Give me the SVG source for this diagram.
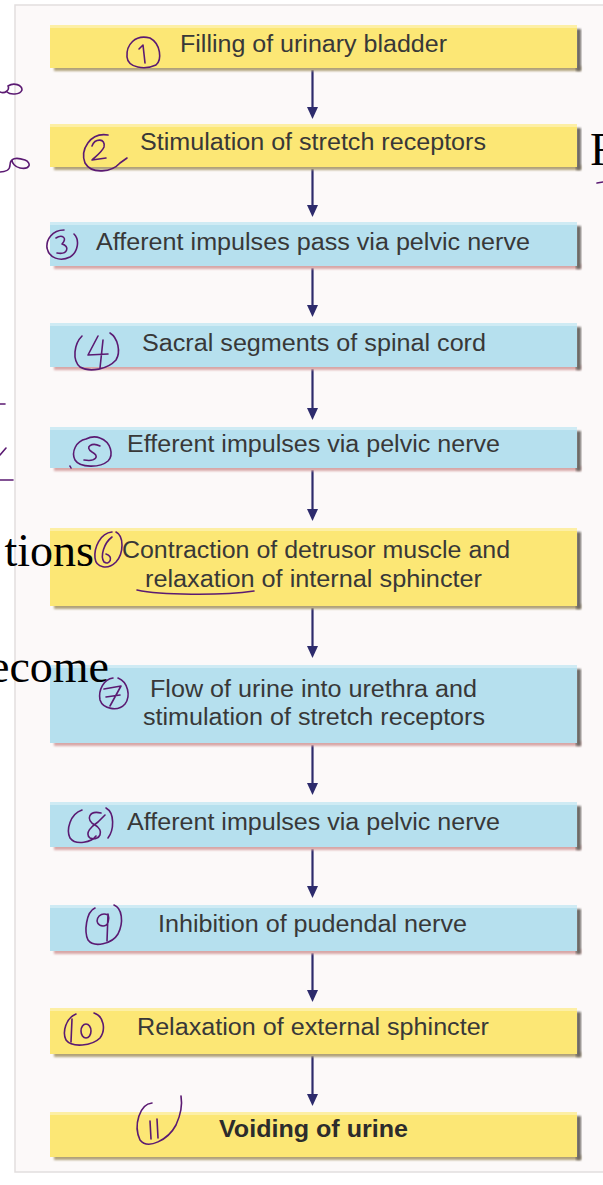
<svg xmlns="http://www.w3.org/2000/svg" width="603" height="1185" viewBox="0 0 603 1185">
  <style>
    .box-y { fill: #fce775; }
    .box-b { fill: #b6e0ee; }
    .hl { fill: #ffffff; opacity: 0.35; }
    .sh-r { fill: #6e6a66; }
    .sh-y { fill: #b0a27a; }
    .sh-b { fill: #d8a7a7; }
    .lbl { font-family: "Liberation Sans", Arial, sans-serif; font-size: 23px; fill: #383838; text-anchor: middle; }
    .bold { font-weight: bold; fill: #2c2c2c; }
    .ink { fill: none; stroke: #5b1a72; stroke-width: 1.6; stroke-linecap: round; stroke-linejoin: round; }
    .serif { font-family: "Liberation Serif", "Times New Roman", serif; font-size: 46px; fill: #000000; }
    .conn { stroke: #2d2b6c; stroke-width: 2.2; fill: none; }
  </style>
  <defs>
    <filter id="soft" x="-5%" y="-50%" width="110%" height="200%">
      <feGaussianBlur stdDeviation="1.2"/>
    </filter>
    <marker id="head" markerUnits="userSpaceOnUse" markerWidth="12" markerHeight="13" refX="5.5" refY="12" orient="auto-start-reverse" viewBox="0 0 11 13">
      <path d="M0,1 L11,1 L5.5,12 Z" fill="#2d2b6c" transform="rotate(-90 5.5 6.5) rotate(90 5.5 6.5)"/>
    </marker>
  </defs>

  <!-- page background and panel -->
  <rect x="0" y="0" width="603" height="1185" fill="#ffffff"/>
  <rect x="15" y="5" width="600" height="1167" fill="#fcf9f9" stroke="#e2dede" stroke-width="1.5"/>

  <!-- connectors -->
  <g id="connectors">
    <line class="conn" x1="312.5" y1="70" x2="312.5" y2="112"/>
    <path d="M307,107 L318,107 L312.5,119 Z" fill="#2d2b6c"/>
    <line class="conn" x1="312.5" y1="169" x2="312.5" y2="210"/>
    <path d="M307,205 L318,205 L312.5,217 Z" fill="#2d2b6c"/>
    <line class="conn" x1="312.5" y1="268" x2="312.5" y2="311"/>
    <path d="M307,305 L318,305 L312.5,317 Z" fill="#2d2b6c"/>
    <line class="conn" x1="312.5" y1="369" x2="312.5" y2="414"/>
    <path d="M307,408 L318,408 L312.5,420 Z" fill="#2d2b6c"/>
    <line class="conn" x1="312.5" y1="470" x2="312.5" y2="514"/>
    <path d="M307,509 L318,509 L312.5,521 Z" fill="#2d2b6c"/>
    <line class="conn" x1="312.5" y1="608" x2="312.5" y2="651"/>
    <path d="M307,646 L318,646 L312.5,658 Z" fill="#2d2b6c"/>
    <line class="conn" x1="312.5" y1="745" x2="312.5" y2="789"/>
    <path d="M307,783 L318,783 L312.5,795 Z" fill="#2d2b6c"/>
    <line class="conn" x1="312.5" y1="849" x2="312.5" y2="891"/>
    <path d="M307,886 L318,886 L312.5,898 Z" fill="#2d2b6c"/>
    <line class="conn" x1="312.5" y1="953" x2="312.5" y2="995"/>
    <path d="M307,990 L318,990 L312.5,1002 Z" fill="#2d2b6c"/>
    <line class="conn" x1="312.5" y1="1056" x2="312.5" y2="1099"/>
    <path d="M307,1094 L318,1094 L312.5,1106 Z" fill="#2d2b6c"/>
  </g>

  <!-- flow steps -->
  <g id="step1">
    <rect class="sh-y" x="54" y="66" width="527" height="5" filter="url(#soft)"/>
    <rect class="sh-r" x="576" y="29" width="5" height="42" filter="url(#soft)"/>
    <rect class="box-y" x="50" y="25" width="527" height="43"/>
    <rect class="hl" x="50" y="25" width="527" height="3"/>
    <text class="lbl" x="313.5" y="52" textLength="267" lengthAdjust="spacingAndGlyphs">Filling of urinary bladder</text>
  </g>
  <g id="step2">
    <rect class="sh-y" x="54" y="165" width="527" height="5" filter="url(#soft)"/>
    <rect class="sh-r" x="576" y="128" width="5" height="42" filter="url(#soft)"/>
    <rect class="box-y" x="50" y="124" width="527" height="43"/>
    <rect class="hl" x="50" y="124" width="527" height="3"/>
    <text class="lbl" x="313" y="150" textLength="346" lengthAdjust="spacingAndGlyphs">Stimulation of stretch receptors</text>
  </g>
  <g id="step3">
    <rect class="sh-b" x="54" y="264" width="527" height="5" filter="url(#soft)"/>
    <rect class="sh-r" x="576" y="226" width="5" height="43" filter="url(#soft)"/>
    <rect class="box-b" x="50" y="222" width="527" height="44"/>
    <rect class="hl" x="50" y="222" width="527" height="3"/>
    <text class="lbl" x="313" y="250" textLength="434" lengthAdjust="spacingAndGlyphs">Afferent impulses pass via pelvic nerve</text>
  </g>
  <g id="step4">
    <rect class="sh-b" x="54" y="365" width="527" height="5" filter="url(#soft)"/>
    <rect class="sh-r" x="576" y="327" width="5" height="43" filter="url(#soft)"/>
    <rect class="box-b" x="50" y="323" width="527" height="44"/>
    <rect class="hl" x="50" y="323" width="527" height="3"/>
    <text class="lbl" x="314" y="351" textLength="344" lengthAdjust="spacingAndGlyphs">Sacral segments of spinal cord</text>
  </g>
  <g id="step5">
    <rect class="sh-b" x="54" y="466" width="527" height="5" filter="url(#soft)"/>
    <rect class="sh-r" x="576" y="431" width="5" height="40" filter="url(#soft)"/>
    <rect class="box-b" x="50" y="427" width="527" height="41"/>
    <rect class="hl" x="50" y="427" width="527" height="3"/>
    <text class="lbl" x="313.5" y="452" textLength="373" lengthAdjust="spacingAndGlyphs">Efferent impulses via pelvic nerve</text>
  </g>
  <g id="step6">
    <rect class="sh-y" x="54" y="604" width="527" height="5" filter="url(#soft)"/>
    <rect class="sh-r" x="576" y="532" width="5" height="77" filter="url(#soft)"/>
    <rect class="box-y" x="50" y="528" width="527" height="78"/>
    <rect class="hl" x="50" y="528" width="527" height="3"/>
    <text class="lbl" x="316" y="558" textLength="388" lengthAdjust="spacingAndGlyphs">Contraction of detrusor muscle and</text>
    <text class="lbl" x="313.5" y="587" textLength="337" lengthAdjust="spacingAndGlyphs">relaxation of internal sphincter</text>
  </g>
  <g id="step7">
    <rect class="sh-b" x="54" y="741" width="527" height="5" filter="url(#soft)"/>
    <rect class="sh-r" x="576" y="669" width="5" height="77" filter="url(#soft)"/>
    <rect class="box-b" x="50" y="665" width="527" height="78"/>
    <rect class="hl" x="50" y="665" width="527" height="3"/>
    <text class="lbl" x="313.5" y="697" textLength="327" lengthAdjust="spacingAndGlyphs">Flow of urine into urethra and</text>
    <text class="lbl" x="314" y="725" textLength="342" lengthAdjust="spacingAndGlyphs">stimulation of stretch receptors</text>
  </g>
  <g id="step8">
    <rect class="sh-b" x="54" y="845" width="527" height="5" filter="url(#soft)"/>
    <rect class="sh-r" x="576" y="806" width="5" height="44" filter="url(#soft)"/>
    <rect class="box-b" x="50" y="802" width="527" height="45"/>
    <rect class="hl" x="50" y="802" width="527" height="3"/>
    <text class="lbl" x="313.5" y="830" textLength="373" lengthAdjust="spacingAndGlyphs">Afferent impulses via pelvic nerve</text>
  </g>
  <g id="step9">
    <rect class="sh-b" x="54" y="949" width="527" height="5" filter="url(#soft)"/>
    <rect class="sh-r" x="576" y="909" width="5" height="45" filter="url(#soft)"/>
    <rect class="box-b" x="50" y="905" width="527" height="46"/>
    <rect class="hl" x="50" y="905" width="527" height="3"/>
    <text class="lbl" x="312.5" y="932" textLength="309" lengthAdjust="spacingAndGlyphs">Inhibition of pudendal nerve</text>
  </g>
  <g id="step10">
    <rect class="sh-y" x="54" y="1052" width="527" height="5" filter="url(#soft)"/>
    <rect class="sh-r" x="576" y="1012" width="5" height="45" filter="url(#soft)"/>
    <rect class="box-y" x="50" y="1008" width="527" height="46"/>
    <rect class="hl" x="50" y="1008" width="527" height="3"/>
    <text class="lbl" x="313" y="1035" textLength="352" lengthAdjust="spacingAndGlyphs">Relaxation of external sphincter</text>
  </g>
  <g id="step11">
    <rect class="sh-y" x="54" y="1155" width="527" height="5" filter="url(#soft)"/>
    <rect class="sh-r" x="576" y="1116" width="5" height="44" filter="url(#soft)"/>
    <rect class="box-y" x="50" y="1112" width="527" height="45"/>
    <rect class="hl" x="50" y="1112" width="527" height="3"/>
    <text class="lbl bold" x="313.5" y="1137" textLength="189" lengthAdjust="spacingAndGlyphs">Voiding of urine</text>
  </g>

  <!-- surrounding page text, cropped at the edges -->
  <g id="page-text">
    <text class="serif" x="94" y="566" text-anchor="end">tions</text>
    <text class="serif" x="109" y="682" text-anchor="end">ecome</text>
    <text class="serif" x="590" y="165" font-size="40">F</text>
  </g>

  <!-- handwritten step numbers and marks -->
  <g id="ink">
    <path class="ink" d="M150,38 C135,34 126,45 127,57 C128,68 145,70 156,65 C162,60 161,44 150,38"/>
    <path class="ink" d="M139,49 L143,45 L145,63"/>

    <path class="ink" d="M108,135 C90,132 80,150 85,163 C92,175 112,172 120,163 L127,158"/>
    <path class="ink" d="M92,146 C95,138 106,138 104,147 C102,152 95,157 92,160 L106,158"/>

    <path class="ink" d="M64,230 C52,230 46,240 47,248 C49,258 60,262 70,257 C78,252 80,240 74,234"/>
    <path class="ink" d="M56,238 C62,234 68,238 62,244 C70,246 68,255 57,253"/>

    <path class="ink" d="M82,336 C74,344 72,360 80,367 C90,373 108,369 116,360 C121,352 118,338 110,333"/>
    <path class="ink" d="M98,336 L88,355 L108,354 M103,340 L100,368"/>

    <path class="ink" d="M86,439 C76,441 71,452 75,460 C80,468 100,468 108,461 C114,455 111,442 100,438 C95,436 90,437 86,439"/>
    <path class="ink" d="M100,446 C92,442 84,447 92,452 C100,456 96,462 84,460"/>
    <path class="ink" d="M70,466 L71,468"/>

    <path class="ink" d="M112,532 C100,533 94,548 95,558 C96,568 108,570 116,562 C124,553 124,536 116,532"/>
    <path class="ink" d="M112,537 C104,543 100,556 104,562 C110,566 114,556 106,554"/>
    <path class="ink" d="M137,590 C160,595 220,596 254,591"/>

    <path class="ink" d="M113,678 C104,679 98,690 100,700 C103,709 118,712 125,704 C131,696 128,682 118,678"/>
    <path class="ink" d="M104,689 L121,686 L110,706 M106,697 L120,695"/>

    <path class="ink" d="M82,810 C70,814 66,830 70,838 C76,846 92,842 96,836 M106,808 C115,813 114,830 108,838"/>
    <path class="ink" d="M101,813 C89,810 85,820 95,825 C105,830 100,842 90,838 C84,833 92,826 98,822 L105,815"/>

    <path class="ink" d="M95,908 C86,912 84,932 88,940 C94,948 112,944 118,934 C124,922 122,908 114,905"/>
    <path class="ink" d="M108,915 C98,910 92,925 103,926 C108,926 110,920 108,914 L107,941"/>

    <path class="ink" d="M76,1014 C66,1018 62,1032 66,1040 C72,1048 92,1046 100,1038 C106,1030 104,1016 94,1013"/>
    <path class="ink" d="M72,1019 L71,1042"/>
    <ellipse class="ink" cx="86" cy="1031" rx="5" ry="7"/>

    <path class="ink" d="M152,1103 C140,1104 133,1125 140,1140 C148,1150 168,1140 176,1125 C182,1112 182,1102 181,1096"/>
    <path class="ink" d="M150,1121 L151,1139 M157,1119 L158,1138"/>

    <path class="ink" d="M0,92 C5,94 10,90 8,86 C14,82 22,85 22,90 C20,95 10,95 7,92"/>
    <path class="ink" d="M0,172 C5,172 10,170 10,165 C10,158 16,157 25,160 C32,163 30,170 20,168 C15,167 12,163 12,160"/>
    <path class="ink" d="M0,404 L5,404"/>
    <path class="ink" d="M0,455 L6,448"/>
    <path class="ink" d="M0,480 L13,480"/>
    <path class="ink" d="M597,183 L603,182"/>
  </g>
</svg>
